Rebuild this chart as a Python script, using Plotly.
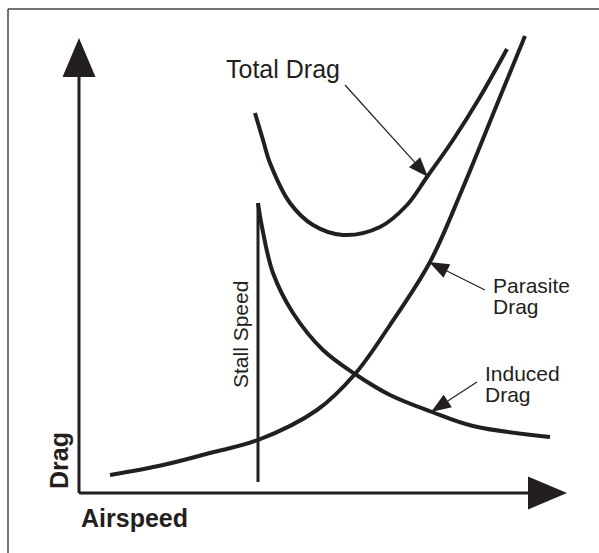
import plotly.graph_objects as go

# ---- data (airspeed / drag in arbitrary units) ----
parasite_speed = [3.1, 8.4, 13.1, 17.9, 23.8, 27.6, 31.1, 35.1, 38.3, 42.1, 44.6]
parasite_drag = [1.8, 2.8, 4.0, 5.3, 8.3, 11.9, 16.8, 23.1, 30.3, 39.6, 45.7]

induced_speed = [17.9, 18.3, 19.4, 21.4, 24.4, 27.6, 31.1, 35.3, 39.4, 47.1]
induced_drag = [29.0, 26.6, 22.0, 18.0, 14.3, 11.9, 9.8, 8.1, 6.7, 5.6]

total_speed = [17.6, 18.4, 19.1, 21.1, 23.4, 26.4, 30.1, 32.8, 34.8, 37.4, 40.1, 42.8]
total_drag = [38.0, 35.3, 33.0, 29.0, 26.8, 25.8, 26.6, 28.8, 31.6, 35.3, 39.6, 44.4]

stall_speed = [17.9, 17.9]
stall_drag = [1.1, 29.0]

INK = "#231f20"
FONT = "Liberation Sans"

fig = go.Figure()
for xs, ys in [(parasite_speed, parasite_drag), (induced_speed, induced_drag),
               (total_speed, total_drag)]:
    fig.add_trace(go.Scatter(x=xs, y=ys, mode="lines",
                             line=dict(color=INK, width=4, shape="spline", smoothing=1.0),
                             hoverinfo="skip", showlegend=False))
fig.add_trace(go.Scatter(x=stall_speed, y=stall_drag, mode="lines",
                         line=dict(color=INK, width=3), hoverinfo="skip", showlegend=False))

shapes = []
# frame (only top and left edges are visible in the picture)
shapes.append(dict(type="line", xref="paper", yref="paper", x0=8 / 599, x1=8 / 599,
                   y0=0, y1=1 - 9 / 553, line=dict(color="#444444", width=1.5)))
shapes.append(dict(type="line", xref="paper", yref="paper", x0=8 / 599, x1=1,
                   y0=1 - 9 / 553, y1=1 - 9 / 553, line=dict(color="#444444", width=1.5)))
# axes with arrowheads
shapes.append(dict(type="line", x0=0, y0=0, x1=0, y1=41.8, line=dict(color=INK, width=3)))
shapes.append(dict(type="path", path="M -1.65 41.6 L 0 45.5 L 1.65 41.6 Z",
                   fillcolor=INK, line=dict(color=INK, width=0)))
shapes.append(dict(type="line", x0=0, y0=0, x1=45.1, y1=0, line=dict(color=INK, width=3)))
shapes.append(dict(type="path", path="M 44.9 1.65 L 48.8 0 L 44.9 -1.65 Z",
                   fillcolor=INK, line=dict(color=INK, width=0)))


def pointer(tail, tip, length=2.0, half=0.75):
    tx, ty = tail
    hx, hy = tip
    dx, dy = hx - tx, hy - ty
    d = (dx * dx + dy * dy) ** 0.5
    ux, uy = dx / d, dy / d
    bx, by = hx - ux * length, hy - uy * length
    px, py = -uy * half, ux * half
    shapes.append(dict(type="line", x0=tx, y0=ty, x1=bx, y1=by,
                       line=dict(color=INK, width=1.2)))
    shapes.append(dict(type="path",
                       path=f"M {hx} {hy} L {bx + px} {by + py} L {bx - px} {by - py} Z",
                       fillcolor=INK, line=dict(color=INK, width=0)))


pointer((26.6, 40.8), (34.9, 31.6))   # total drag
pointer((40.6, 20.3), (35.0, 23.1))   # parasite drag
pointer((39.8, 11.1), (35.2, 8.1))    # induced drag

fig.update_layout(shapes=shapes)


def label(text, x, y, size, bold=False, angle=0, xanchor="left"):
    fig.add_annotation(x=x, y=y, text=f"<b>{text}</b>" if bold else text,
                       showarrow=False, xanchor=xanchor, yanchor="middle",
                       textangle=angle,
                       font=dict(family=FONT, size=size, color=INK))


label("Total Drag", 14.5, 42.45, 25)
label("Parasite", 41.2, 20.75, 21)
label("Drag", 41.2, 18.65, 21)
label("Induced", 40.4, 11.95, 21)
label("Drag", 40.4, 9.85, 21)
label("Stall Speed", 16.1, 15.8, 21, angle=-90, xanchor="center")
label("Drag", -2.0, 3.2, 25, bold=True, angle=-90, xanchor="center")
label("Airspeed", 0.0, -2.45, 25, bold=True)

fig.update_layout(
    width=599, height=553,
    margin=dict(l=0, r=0, t=0, b=0),
    paper_bgcolor="white", plot_bgcolor="white",
    xaxis=dict(range=[-7.9, 52.0], visible=False, fixedrange=True),
    yaxis=dict(range=[-6.0, 49.3], visible=False, fixedrange=True),
    showlegend=False,
)

fig.write_html("out.html",
               config={"displayModeBar": False, "staticPlot": True},
               post_script="document.body.style.margin='0';"
                           "document.body.style.overflow='hidden';")
